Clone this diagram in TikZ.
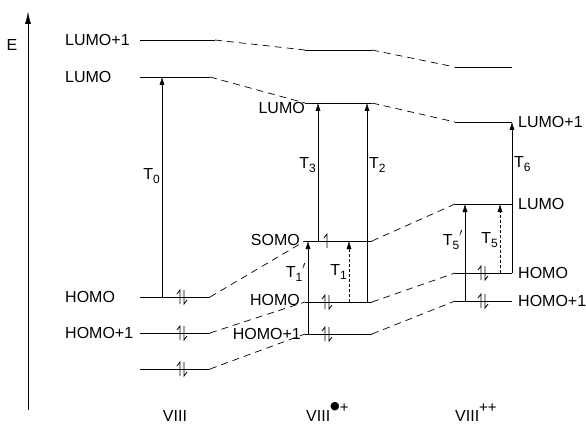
\documentclass[tikz,border=0pt]{standalone}
\usepackage{fontspec}
\setmainfont{Liberation Sans}
\newfontfamily\symfont{DejaVu Sans}
\usetikzlibrary{arrows.meta, calc}

\newcommand{\Tsub}[1]{T\raisebox{-4pt}{\fontsize{12}{12}\selectfont #1}}
\newcommand{\Tsubp}[1]{T\raisebox{-4pt}{\fontsize{12}{12}\selectfont #1}\raisebox{2pt}{$'$}}
\newcommand{\chargeup}[1]{\raisebox{9pt}{\fontsize{15}{15}\selectfont #1}}
\newcommand{\radbullet}{\raisebox{3pt}{\symfont\fontsize{11}{11}\selectfont ●}}

\tikzset{
  level/.style={line width=0.9pt},
  link/.style={dash pattern=on 7pt off 5pt, line width=0.7pt},
  trans/.style={thin, -{Latex[length=8pt,width=5pt]}},
  weak/.style={trans, densely dashed},
  lbl/.style={font=\fontsize{16}{19}\selectfont, inner sep=2pt},
  epair/.pic={
    \draw[line width=0.8pt] (-2,7) -- (-2,-7) -- (-5,-3);
    \draw[line width=0.8pt] (2,-7) -- (2,7) -- (5,3);
  },
  eup/.pic={
    \draw[line width=0.8pt] (0,7) -- (0,-7) -- (-3,-3);
  }
}

\begin{document}
\begin{tikzpicture}[x=1pt, y=-1pt]
  \useasboundingbox (0,0) rectangle (586,425);

  % energy axis
  \coordinate (axbot) at (28,410);
  \coordinate (axtop) at (28,12);
  \draw[thin, -{Latex[length=12pt,width=6pt]}] (axbot) -- (axtop);
  \node[lbl] (E) at (12,45) {E};

  % VIII
  \coordinate (aLp) at (140,40);  \coordinate (aLpe) at (215,40);
  \coordinate (aL)  at (140,77);  \coordinate (aLe)  at (210,77);
  \coordinate (aH)  at (140,297); \coordinate (aHe)  at (210,297);
  \coordinate (aHp) at (140,333); \coordinate (aHpe) at (210,333);
  \coordinate (aHq) at (140,369); \coordinate (aHqe) at (210,369);
  % VIII radical cation
  \coordinate (bLp) at (305,50);  \coordinate (bLpe) at (372,50);
  \coordinate (bL)  at (305,103); \coordinate (bLe)  at (372,103);
  \coordinate (bS)  at (305,241); \coordinate (bSe)  at (372,241);
  \coordinate (bH)  at (305,302); \coordinate (bHe)  at (372,302);
  \coordinate (bHp) at (305,334); \coordinate (bHpe) at (372,334);
  % VIII dication
  \coordinate (cLq) at (455,67);  \coordinate (cLqe) at (512,67);
  \coordinate (cLp) at (455,122); \coordinate (cLpe) at (512,122);
  \coordinate (cL)  at (455,204); \coordinate (cLe)  at (512,204);
  \coordinate (cH)  at (455,273); \coordinate (cHe)  at (512,273);
  \coordinate (cHp) at (455,301); \coordinate (cHpe) at (512,301);

  % levels
  \foreach \a/\b in {aLp/aLpe, aL/aLe, aH/aHe, aHp/aHpe, aHq/aHqe,
                     bLp/bLpe, bL/bLe, bS/bSe, bH/bHe, bHp/bHpe,
                     cLq/cLqe, cLp/cLpe, cL/cLe, cH/cHe, cHp/cHpe}
    \draw[level] (\a) -- (\b);

  % correlation lines
  \foreach \a/\b in {aLpe/bLp, aLe/bL, aHe/bS, aHpe/bH, aHqe/bHp,
                     bLpe/cLq, bLe/cLp, bSe/cL, bHe/cH, bHpe/cHp}
    \draw[link] (\a) -- (\b);

  % electrons
  \pic at ($(aH)+(42,0)$) {epair};
  \pic at ($(aHp)+(42,0)$) {epair};
  \pic at ($(aHq)+(42,0)$) {epair};
  \pic at ($(bS)+(22,0)$) {eup};
  \pic at ($(bH)+(22,0)$) {epair};
  \pic at ($(bHp)+(22,0)$) {epair};
  \pic at ($(cH)+(28,0)$) {epair};
  \pic at ($(cHp)+(28,0)$) {epair};

  % transitions
  \draw[trans] ([xshift=22pt]aH) -- ([xshift=22pt]aL)
    node[lbl, pos=0.55, left] (T0) {\Tsub{0}};
  \draw[trans] ([xshift=3pt]bHp) -- ([xshift=3pt]bS)
    node[lbl, pos=0.66, left] (T1p) {\Tsubp{1}};
  \draw[trans] ([xshift=13pt]bS) -- ([xshift=13pt]bL)
    node[lbl, pos=0.55, left] (T3) {\Tsub{3}};
  \draw[weak] ([xshift=44pt]bH) -- ([xshift=44pt]bS)
    node[lbl, pos=0.5, left] (T1) {\Tsub{1}};
  \draw[trans] ([xshift=62pt]bH) -- ([xshift=62pt]bL)
    node[lbl, pos=0.69, right] (T2) {\Tsub{2}};
  \draw[trans] ([xshift=10pt]cHp) -- ([xshift=10pt]cL)
    node[lbl, pos=0.63, left] (T5p) {\Tsubp{5}};
  \draw[weak] ([xshift=45pt]cH) -- ([xshift=45pt]cL)
    node[lbl, pos=0.48, left] (T5) {\Tsub{5}};
  \draw[thin] ([xshift=45pt]cH) -- (cHe);
  \draw[trans] (cHe) -- (cLpe)
    node[lbl, pos=0.72, right] (T6) {\Tsub{6}};

  % level names
  \node[lbl, anchor=west] (nLp1) at (63,40) {LUMO+1};
  \node[lbl, anchor=west] (nL1) at (63,77) {LUMO};
  \node[lbl, anchor=west] (nH1) at (63,297) {HOMO};
  \node[lbl, anchor=west] (nHp1) at (63,333) {HOMO+1};
  \node[lbl, anchor=east] (nL2) at (307,108) {LUMO};
  \node[lbl, anchor=east] (nS2) at (302,240) {SOMO};
  \node[lbl, anchor=east] (nH2) at (302,300) {HOMO};
  \node[lbl, anchor=east] (nHp2) at (303,334) {HOMO+1};
  \node[lbl, anchor=west, inner xsep=1pt] (nLp3) at (517,122) {LUMO+1};
  \node[lbl, anchor=west, inner xsep=1pt] (nL3) at (517,204) {LUMO};
  \node[lbl, anchor=west, inner xsep=1pt] (nH3) at (517,273) {HOMO};
  \node[lbl, anchor=west, inner xsep=1pt] (nHp3) at (517,301) {HOMO+1};

  % species
  \node[lbl, anchor=base] (m0) at (175,421) {VIII};
  \node[lbl, anchor=base west] (m1) at (304,421) {VIII\chargeup{\radbullet+}};
  \node[lbl, anchor=base west] (m2) at (453,421) {VIII\chargeup{++}};
\end{tikzpicture}
\end{document}
